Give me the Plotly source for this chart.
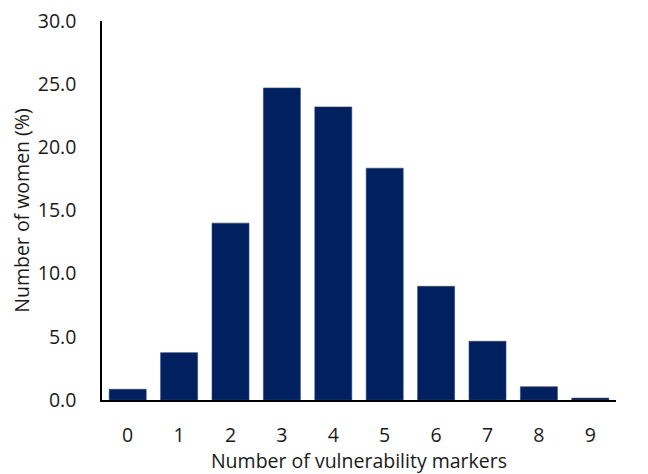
import plotly.graph_objects as go

categories = ["0", "1", "2", "3", "4", "5", "6", "7", "8", "9"]
values = [0.85, 3.75, 14.0, 24.7, 23.2, 18.35, 9.0, 4.65, 1.05, 0.15]
y_ticks = [0, 5, 10, 15, 20, 25, 30]
y_tick_labels = ["0.0", "5.0", "10.0", "15.0", "20.0", "25.0", "30.0"]

fig = go.Figure(go.Bar(
    x=categories, y=values,
    marker=dict(color="#002060", line=dict(color="#2a4580", width=0.6)),
))

font_family = "Open Sans, Noto Sans, sans-serif"
fig.update_layout(
    width=648, height=474,
    margin=dict(l=102, r=32, t=21, b=74),
    plot_bgcolor="white", paper_bgcolor="white",
    bargap=0.28, showlegend=False,
    font=dict(family=font_family, size=19.5, color="#1a1a1a"),
)
fig.update_xaxes(
    type="category", showline=True, linecolor="black", linewidth=1.5,
    ticks="", ticklabelstandoff=17, automargin=False,
    title=dict(text="Number of vulnerability markers", standoff=11,
               font=dict(size=19.5)),
    showgrid=False,
)
fig.update_yaxes(
    range=[0, 30], tickvals=y_ticks, ticktext=y_tick_labels,
    showline=True, linecolor="black", linewidth=1.5, ticks="",
    ticklabelstandoff=20, showgrid=False, zeroline=False, automargin=False,
    title=dict(text="Number of women (%)", standoff=3, font=dict(size=19.5)),
)

fig.write_html("out.html", post_script="document.body.style.margin='0';",
               config={"displayModeBar": False})
